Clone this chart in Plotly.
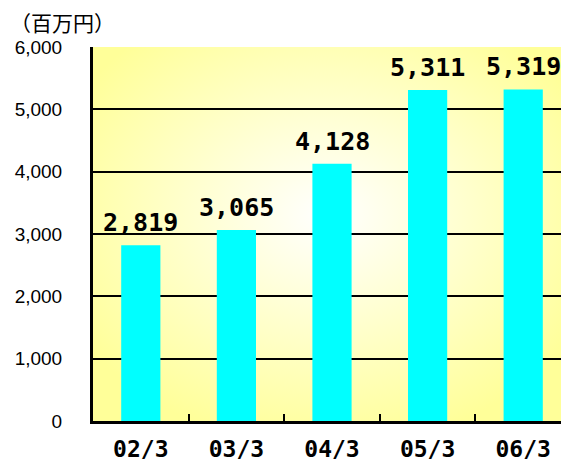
import base64
import plotly.graph_objects as go

# 決算期 / 売上高（百万円）
periods = ['02/3', '03/3', '04/3', '05/3', '06/3']
sales = [2819, 3065, 4128, 5311, 5319]
y_ticks = [0, 1000, 2000, 3000, 4000, 5000, 6000]
y_tick_labels = ['0', '1,000', '2,000', '3,000', '4,000', '5,000', '6,000']
unit_label = '（百万円）'

# radial white -> yellow background for the plot area
bg_svg = '''<svg xmlns="http://www.w3.org/2000/svg" width="100" height="100" preserveAspectRatio="none" viewBox="0 0 100 100">
<defs><radialGradient id="g" cx="50%" cy="45%" r="62%">
<stop offset="0%" stop-color="#FFFFFF"/><stop offset="100%" stop-color="#FFFF99"/>
</radialGradient></defs><rect width="100" height="100" fill="url(#g)"/></svg>'''
bg_src = 'data:image/svg+xml;base64,' + base64.b64encode(bg_svg.encode()).decode()

# page body has an 8px margin, so the figure is 16px smaller than the window
W, H = 553, 453
L, T, B = 85, 39, 40

fig = go.Figure()
fig.add_trace(go.Bar(x=periods, y=sales, width=0.41,
                     marker=dict(color='#00FFFF', line=dict(width=0))))

for p, v in zip(periods, sales):
    fig.add_annotation(x=p, y=v, text=f'{v:,}', showarrow=False, yanchor='bottom',
                       yshift=6, font=dict(family='DejaVu Sans Mono', size=25, color='black',
                                           weight='bold'))

fig.add_annotation(xref='paper', yref='paper', x=-L / (W - L), y=1.0, xanchor='left',
                   yanchor='middle', yshift=25, text=unit_label, showarrow=False,
                   font=dict(family='Noto Sans CJK JP', size=21, color='black'))

fig.update_layout(
    width=W, height=H,
    margin=dict(l=L, r=0, t=T, b=B),
    paper_bgcolor='white', plot_bgcolor='rgba(0,0,0,0)',
    showlegend=False,
    images=[dict(source=bg_src, xref='paper', yref='paper', x=0, y=1, sizex=1, sizey=1,
                 sizing='stretch', layer='below')],
)
fig.update_xaxes(type='category', range=[-0.5, -0.5 + (W - L) / 95.6], automargin=False,
                 showline=True, linecolor='black', linewidth=3, ticks='inside',
                 tickson='boundaries', ticklen=7, tickwidth=2, tickcolor='black',
                 showgrid=False, ticklabelstandoff=5,
                 tickfont=dict(family='DejaVu Sans Mono', size=23, color='black', weight='bold'))
fig.update_yaxes(range=[0, 6000], tickvals=y_ticks, ticktext=y_tick_labels, automargin=False,
                 showline=True, linecolor='black', linewidth=3, showgrid=True,
                 gridcolor='black', gridwidth=2, zeroline=False, ticks='', ticklabelstandoff=24,
                 tickfont=dict(family='Liberation Sans', size=19, color='black'))

fig.write_html("out.html")
